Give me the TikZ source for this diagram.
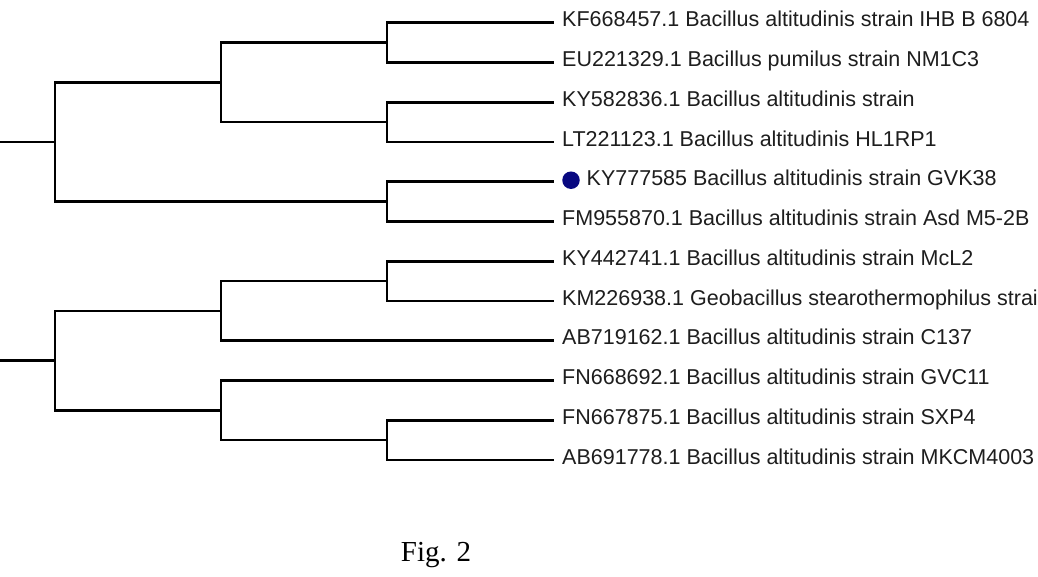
\documentclass[tikz,border=0pt]{standalone}
\usepackage{fontspec}
\setmainfont{Liberation Sans}
\newfontfamily\figfont{Liberation Serif}
\definecolor{labcol}{RGB}{30,30,30}
\definecolor{dotcol}{RGB}{8,8,128}
\begin{document}
\begin{tikzpicture}[x=1pt,y=-1pt,
  branch/.style={line width=2.6pt, line join=miter, line cap=butt, black},
  leaflabel/.style={anchor=base west, inner sep=0pt, text=labcol, font=\fontsize{21.5}{24}\selectfont},
  figlabel/.style={anchor=base, inner sep=0pt, font=\figfont\fontsize{29}{32}\selectfont}]
\useasboundingbox[fill=white] (0,0) rectangle (1038,576);
% leaf end points
\foreach \i/\y in {0/22.7,1/62.45,2/102.2,3/141.95,4/181.7,5/221.45,6/261.2,7/300.95,8/340.7,9/380.45,10/420.2,11/459.95}{
  \coordinate (e\i) at (553.5,\y);
}
% internal nodes
\coordinate (n01) at (387,42.6);
\coordinate (n23) at (387,122.1);
\coordinate (n45) at (387,201.6);
\coordinate (A) at (221,82.3);
\coordinate (R1) at (55,141.9);
\coordinate (s1) at (-3,141.9);
\coordinate (n67) at (387,281.1);
\coordinate (B) at (221,310.9);
\coordinate (n1011) at (387,440.1);
\coordinate (C) at (221,410.3);
\coordinate (R2) at (55,360.6);
\coordinate (s2) at (-3,360.6);
% branches
\draw[branch] (e0) -| (n01) |- (e1);
\draw[branch] (e2) -| (n23) |- (e3);
\draw[branch] (e4) -| (n45) |- (e5);
\draw[branch] (n01) -| (A) |- (n23);
\draw[branch] (A) -| (R1) |- (n45);
\draw[branch] (s1) -- (R1);
\draw[branch] (e6) -| (n67) |- (e7);
\draw[branch] (n67) -| (B) |- (e8);
\draw[branch] (e10) -| (n1011) |- (e11);
\draw[branch] (e9) -| (C) |- (n1011);
\draw[branch] (B) -| (R2) |- (C);
\draw[branch] (s2) -- (R2);
% labels
\node[leaflabel] (l0) at ([shift={(8.5,4.2)}]e0) {KF668457.1 Bacillus altitudinis strain IHB B 6804};
\node[leaflabel] (l1) at ([shift={(8.5,4.2)}]e1) {EU221329.1 Bacillus pumilus strain NM1C3};
\node[leaflabel] (l2) at ([shift={(8.5,4.2)}]e2) {KY582836.1 Bacillus altitudinis strain};
\node[leaflabel] (l3) at ([shift={(8.5,4.2)}]e3) {LT221123.1 Bacillus altitudinis HL1RP1};
\node[circle, fill=dotcol, inner sep=0pt, minimum size=17.5pt] (dot) at ([shift={(17.5,-1.5)}]e4) {};
\node[leaflabel] (l4) at ([shift={(33,4.2)}]e4) {KY777585 Bacillus altitudinis strain GVK38};
\node[leaflabel] (l5) at ([shift={(8.5,4.2)}]e5) {FM955870.1 Bacillus altitudinis strain Asd M5-2B};
\node[leaflabel] (l6) at ([shift={(8.5,4.2)}]e6) {KY442741.1 Bacillus altitudinis strain McL2};
\node[leaflabel] (l7) at ([shift={(8.5,4.2)}]e7) {KM226938.1 Geobacillus stearothermophilus strain};
\node[leaflabel] (l8) at ([shift={(8.5,4.2)}]e8) {AB719162.1 Bacillus altitudinis strain C137};
\node[leaflabel] (l9) at ([shift={(8.5,4.2)}]e9) {FN668692.1 Bacillus altitudinis strain GVC11};
\node[leaflabel] (l10) at ([shift={(8.5,4.2)}]e10) {FN667875.1 Bacillus altitudinis strain SXP4};
\node[leaflabel] (l11) at ([shift={(8.5,4.2)}]e11) {AB691778.1 Bacillus altitudinis strain MKCM4003};
\node[figlabel] (fig) at (436,561.7) {Fig. 2};
\end{tikzpicture}
\end{document}
